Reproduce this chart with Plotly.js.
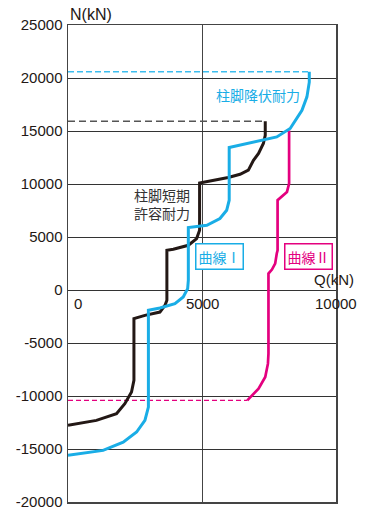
<!DOCTYPE html>
<html>
<head>
<meta charset="utf-8">
<script src="https://cdn.plot.ly/plotly-3.0.1.min.js"></script>
<style>html,body{margin:0;padding:0;background:#fff;}#chart{width:366px;height:508px;}</style>
</head>
<body>
<div id="chart"></div>
<script>
// Data (kN)
const blackQ = [0, 1060, 1810, 2120, 2370, 2460, 2460, 2870, 3430, 3620, 3690, 3690, 3930, 4490, 4800, 4910, 4910, 5980, 6420, 6730, 6920, 7110, 7290, 7360, 7360];
const blackN = [-12770, -12300, -11670, -10720, -9630, -8520, -2700, -2390, -2080, -1440, -970, 3750, 3840, 4220, 4850, 5640, 10100, 10610, 10920, 11300, 12240, 12880, 13820, 14600, 15930];
const blackDashQ = [0, 7360];
const blackDashN = [15930, 15930];

const blueQ = [0, 1310, 2060, 2560, 2870, 3000, 3000, 3430, 3990, 4300, 4465, 4490, 4490, 5180, 5670, 5920, 6015, 6015, 7790, 8290, 8730, 8915, 9003, 9003];
const blueN = [-15600, -15130, -14350, -13400, -12300, -11040, -1920, -1700, -1280, -660, 130, 920, 5890, 6110, 6740, 7520, 8470, 13440, 14440, 15240, 16960, 18220, 19600, 20580];
const blueDashQ = [0, 9003];
const blueDashN = [20580, 20580];

const magQ = [6690, 7110, 7360, 7460, 7480, 7480, 7610, 7730, 7790, 7820, 7820, 8170, 8250, 8250];
const magN = [-10410, -9310, -8210, -6950, -6000, 1550, 1930, 2490, 3440, 3750, 8470, 9250, 10040, 15050];
const magDashQ = [0, 6690];
const magDashN = [-10410, -10410];

const yTickVals = [25000, 20000, 15000, 10000, 5000, 0, -5000, -10000, -15000, -20000];
const yTickText = ['25000', '20000', '15000', '10000', '5000', '0', '-5000', '-10000', '-15000', '-20000'];
const xTickVals = [0, 5000, 10000];
const xTickText = ['0', '5000', '10000'];

const BLUE = '#19ADE6';
const MAG = '#E4007F';
const BLK = '#231815';
const JP = '"Noto Sans CJK JP", sans-serif';
const LAT = 'Arial, "Liberation Sans", sans-serif';

const traces = [
  {x: blueDashQ, y: blueDashN, mode: 'lines', line: {color: '#3DBDEE', width: 1.5, dash: '6px,3px'}, hoverinfo: 'skip'},
  {x: blackDashQ, y: blackDashN, mode: 'lines', line: {color: '#555555', width: 1.5, dash: '7px,4px'}, hoverinfo: 'skip'},
  {x: magDashQ, y: magDashN, mode: 'lines', line: {color: MAG, width: 1.2, dash: '5px,3px'}, hoverinfo: 'skip'},
  {x: blackQ, y: blackN, mode: 'lines', line: {color: BLK, width: 3}, hoverinfo: 'skip'},
  {x: magQ, y: magN, mode: 'lines', line: {color: MAG, width: 2.7}, hoverinfo: 'skip'},
  {x: blueQ, y: blueN, mode: 'lines', line: {color: BLUE, width: 3}, hoverinfo: 'skip'}
];

const annotations = xTickVals.map((v, i) => ({
  x: v, y: 0, xref: 'x', yref: 'y', text: xTickText[i], showarrow: false,
  xanchor: 'center', yanchor: 'middle', yshift: -13, xshift: i === 0 ? 10 : 0,
  font: {family: LAT, size: 15, color: BLK}
}));
annotations.push(
  {x: 0, y: 1.021, xref: 'paper', yref: 'paper', text: 'N(kN)', showarrow: false, xanchor: 'left', yanchor: 'middle', font: {family: LAT, size: 16, color: BLK}},
  {x: 9936, y: 980, xref: 'x', yref: 'y', text: 'Q(kN)', showarrow: false, xanchor: 'center', yanchor: 'middle', font: {family: LAT, size: 15, color: BLK}},
  {x: 7094, y: 18380, xref: 'x', yref: 'y', text: '柱脚降伏耐力', showarrow: false, xanchor: 'center', yanchor: 'middle', font: {family: JP, size: 14, color: BLUE}},
  {x: 4626, y: 8090, xref: 'x', yref: 'y', text: '柱脚短期<br>許容耐力', showarrow: false, xanchor: 'right', yanchor: 'middle', align: 'right', font: {family: JP, size: 14, color: '#333333'}},
  {x: 5643, y: 3120, xref: 'x', yref: 'y', text: '曲線Ⅰ', showarrow: false, xanchor: 'center', yanchor: 'middle', bgcolor: '#ffffff', bordercolor: BLUE, borderwidth: 1.5, borderpad: 2, font: {family: JP, size: 14, color: BLUE}},
  {x: 8975, y: 3130, xref: 'x', yref: 'y', text: '曲線Ⅱ', showarrow: false, xanchor: 'center', yanchor: 'middle', bgcolor: '#ffffff', bordercolor: MAG, borderwidth: 1.5, borderpad: 2, font: {family: JP, size: 14, color: MAG}}
);

const layout = {
  width: 366, height: 508,
  margin: {l: 68, r: 30, t: 25, b: 6},
  paper_bgcolor: '#ffffff', plot_bgcolor: '#ffffff',
  showlegend: false,
  xaxis: {range: [0, 10000], tickvals: xTickVals, showticklabels: false, showgrid: true, gridcolor: '#444444', gridwidth: 1, zeroline: false, showline: true, mirror: true, linecolor: '#444444', linewidth: 1.5, ticks: '', fixedrange: true},
  yaxis: {range: [-20000, 25000], tickvals: yTickVals, ticktext: yTickText, showgrid: true, gridcolor: '#333333', gridwidth: 1, zeroline: false, showline: true, mirror: true, linecolor: '#444444', linewidth: 1.5, ticks: 'outside', ticklen: 1, tickcolor: 'rgba(0,0,0,0)', ticklabeloverflow: 'allow', tickfont: {family: LAT, size: 15, color: BLK}, fixedrange: true},
  annotations: annotations
};

Plotly.newPlot('chart', traces, layout, {displayModeBar: false, staticPlot: true});
</script>
</body>
</html>
